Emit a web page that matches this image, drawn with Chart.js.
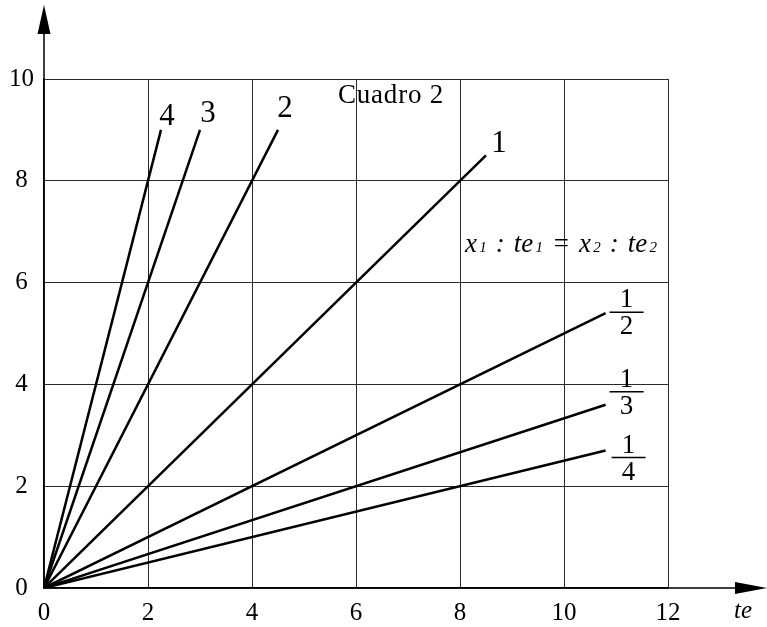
<!DOCTYPE html>
<html>
<head>
<meta charset="utf-8">
<script src="https://cdn.jsdelivr.net/npm/chart.js@4/dist/chart.umd.min.js"></script>
<style>
  html, body { margin: 0; padding: 0; background: #fff; }
  #c { display: block; }
</style>
</head>
<body>
<canvas id="c" width="767" height="627"></canvas>
<script>
// ---- data ----
const lineLabels = ['4', '3', '2', '1', '1/2', '1/3', '1/4'];
const endX = [2.25, 3, 4.5, 8.5, 10.8, 10.8, 10.8];
const endY = [9, 9, 9, 8.5, 5.4, 3.6, 2.7];
const xTicks = [0, 2, 4, 6, 8, 10, 12];
const yTicks = [0, 2, 4, 6, 8, 10];
const chartTitle = 'Cuadro 2';
const xAxisName = 'te';

// ---- build datasets ----
const datasets = lineLabels.map((lab, i) => ({
  label: lab,
  data: [{ x: 0, y: 0 }, { x: endX[i], y: endY[i] }],
  showLine: true,
  borderColor: '#000',
  borderWidth: 2.5,
  pointRadius: 0,
  fill: false
}));

const SERIF = '"Liberation Serif", "Times New Roman", serif';

// label offsets (pixels) from the end of each line
const labelOffsets = [[6, -13], [8, -16], [7, -21], [13, -11], [21, -1], [21, -13], [23, 7]];

const annotations = {
  id: 'annotations',
  afterDraw(chart) {
    const ctx = chart.ctx;
    const xs = chart.scales.x, ys = chart.scales.y;
    const area = chart.chartArea;
    const x0 = xs.getPixelForValue(0);
    const y0 = ys.getPixelForValue(0);
    ctx.save();
    // axis extensions + arrows
    ctx.strokeStyle = '#000';
    ctx.fillStyle = '#000';
    ctx.lineWidth = 1.5;
    ctx.beginPath();
    ctx.moveTo(x0, area.top);
    ctx.lineTo(x0, 34);
    ctx.moveTo(area.right, y0);
    ctx.lineTo(736, y0);
    ctx.stroke();
    ctx.beginPath();
    ctx.moveTo(x0, 5);
    ctx.lineTo(x0 - 6.5, 34);
    ctx.lineTo(x0 + 6.5, 34);
    ctx.closePath();
    ctx.fill();
    ctx.beginPath();
    ctx.moveTo(767, y0);
    ctx.lineTo(735, y0 - 6);
    ctx.lineTo(735, y0 + 6);
    ctx.closePath();
    ctx.fill();

    // line labels
    ctx.textAlign = 'center';
    ctx.textBaseline = 'middle';
    lineLabels.forEach((lab, i) => {
      const px = xs.getPixelForValue(endX[i]) + labelOffsets[i][0];
      const py = ys.getPixelForValue(endY[i]) + labelOffsets[i][1];
      if (lab.includes('/')) {
        const [n, d] = lab.split('/');
        ctx.font = '27px ' + SERIF;
        ctx.fillText(n, px, py - 12);
        ctx.fillText(d, px, py + 15);
        ctx.lineWidth = 1.5;
        ctx.beginPath();
        ctx.moveTo(px - 17, py);
        ctx.lineTo(px + 17, py);
        ctx.stroke();
      } else {
        ctx.font = '31px ' + SERIF;
        ctx.fillText(lab, px, py);
      }
    });

    // title
    ctx.font = '27px ' + SERIF;
    ctx.letterSpacing = '0.8px';
    ctx.fillText(chartTitle, 391, 96);
    ctx.letterSpacing = '0px';

    // axis name
    ctx.font = 'italic 25px ' + SERIF;
    ctx.fillText(xAxisName, 743, 611);

    // formula x1 : te1 = x2 : te2
    const parts = [
      ['x', 'main'], ['1', 'sub'], [' : ', 'main'], ['te', 'main'], ['1', 'sub'],
      [' = ', 'main'], ['x', 'main'], ['2', 'sub'], [' : ', 'main'], ['te', 'main'], ['2', 'sub']
    ];
    const fMain = 'italic 27px ' + SERIF, fSub = 'italic 15px ' + SERIF;
    let widths = parts.map(p => { ctx.font = p[1] === 'main' ? fMain : fSub; return ctx.measureText(p[0]).width; });
    const total = widths.reduce((a, b) => a + b, 0);
    const target = 192;
    const extra = (target - total) / (parts.length - 1);
    let cx = 561 - target / 2;
    ctx.textAlign = 'left';
    ctx.textBaseline = 'alphabetic';
    parts.forEach((p, i) => {
      ctx.font = p[1] === 'main' ? fMain : fSub;
      ctx.fillText(p[0], cx, 252);
      cx += widths[i] + extra;
    });
    ctx.restore();
  }
};

new Chart(document.getElementById('c'), {
  type: 'scatter',
  data: { datasets },
  options: {
    responsive: false,
    animation: false,
    devicePixelRatio: 1,
    layout: { padding: { left: 0, right: 99, top: 79, bottom: 0 } },
    plugins: { legend: { display: false }, tooltip: { enabled: false } },
    scales: {
      x: {
        type: 'linear', min: 0, max: 12,
        afterBuildTicks(s) { s.ticks = xTicks.map(v => ({ value: v })); },
        ticks: { padding: 10, color: '#000', font: { family: SERIF, size: 25 } },
        grid: { color: '#2a2a2a', lineWidth: 1, drawTicks: false },
        border: { color: '#000', width: 1.5 },
        afterFit(s) { s.height = 39; }
      },
      y: {
        type: 'linear', min: 0, max: 10,
        afterBuildTicks(s) { s.ticks = yTicks.map(v => ({ value: v })); },
        ticks: { padding: 10, crossAlign: 'center', color: '#000', font: { family: SERIF, size: 25 } },
        grid: { color: '#2a2a2a', lineWidth: 1, drawTicks: false },
        border: { color: '#000', width: 1.5 },
        afterFit(s) { s.width = 44; }
      }
    }
  },
  plugins: [annotations]
});
</script>
</body>
</html>
